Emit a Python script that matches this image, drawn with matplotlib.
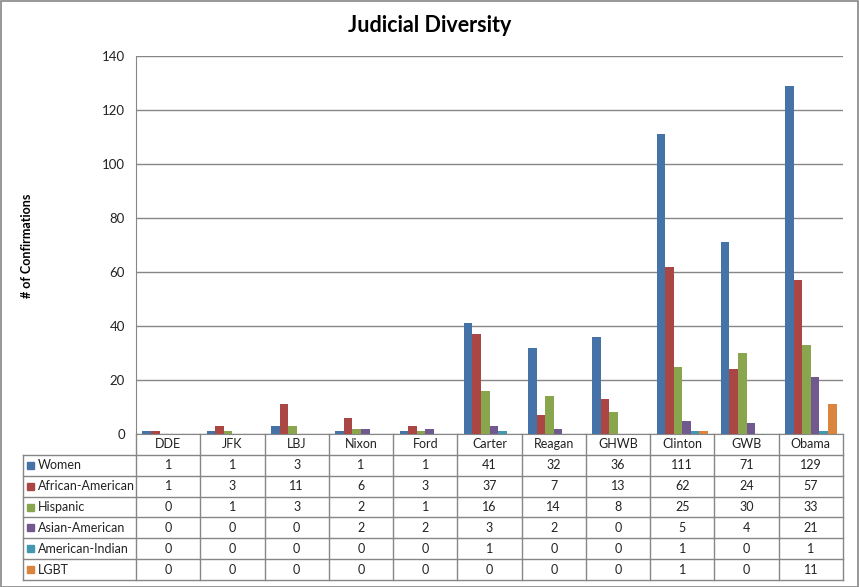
import matplotlib.pyplot as plt
import numpy as np
from matplotlib.patches import Rectangle

plt.rcParams['font.family'] = ['Lato', 'DejaVu Sans']

# Data
presidents = ['DDE', 'JFK', 'LBJ', 'Nixon', 'Ford', 'Carter', 'Reagan', 'GHWB', 'Clinton', 'GWB', 'Obama']
groups = ['Women', 'African-American', 'Hispanic', 'Asian-American', 'American-Indian', 'LGBT']
women = [1, 1, 3, 1, 1, 41, 32, 36, 111, 71, 129]
african_american = [1, 3, 11, 6, 3, 37, 7, 13, 62, 24, 57]
hispanic = [0, 1, 3, 2, 1, 16, 14, 8, 25, 30, 33]
asian_american = [0, 0, 0, 2, 2, 3, 2, 0, 5, 4, 21]
american_indian = [0, 0, 0, 0, 0, 1, 0, 0, 1, 0, 1]
lgbt = [0, 0, 0, 0, 0, 0, 0, 0, 1, 0, 11]
values = [women, african_american, hispanic, asian_american, american_indian, lgbt]
colors = ['#4572A7', '#AA4643', '#89A54E', '#71588F', '#4198AF', '#DB843D']

grey = '#868686'
txt = '#222222'
W, H = 859, 587
fig = plt.figure(figsize=(W / 100, H / 100), dpi=100)
ax = fig.add_axes([136 / W, 1 - 434 / H, 707 / W, 378 / H])

n = len(presidents)
x = np.arange(n)
width = 0.8 / len(groups)
for i, (name, vals) in enumerate(zip(groups, values)):
    ax.bar(x + (i - (len(groups) - 1) / 2) * width, vals, width, color=colors[i], label=name, zorder=3)

ax.set_xlim(-0.5, n - 0.5)
ax.set_ylim(0, 140)
ax.set_yticks(range(0, 141, 20))
ax.set_xticks([])
ax.yaxis.grid(True, color=grey, linewidth=1, zorder=0)
for s in ['top', 'right']:
    ax.spines[s].set_visible(False)
for s in ['left', 'bottom']:
    ax.spines[s].set_color(grey)
ax.tick_params(axis='y', length=0, labelsize=9.5, pad=8, colors=txt)

# Data table under the chart (axes coordinates)
lab_w = 113 / 707
tab_h = 146 / 378
n_rows = len(groups) + 1
rh = tab_h / n_rows
cw = 1 / n
line_kw = dict(color=grey, linewidth=1, transform=ax.transAxes, clip_on=False)

# horizontal lines
for k in range(1, n_rows + 1):
    ax.plot([-lab_w, 1], [-rh * k, -rh * k], **line_kw)
# vertical lines
for k in range(n + 1):
    ax.plot([k * cw, k * cw], [0, -tab_h], **line_kw)
ax.plot([-lab_w, -lab_w], [-rh, -tab_h], **line_kw)

# header row
for j, name in enumerate(presidents):
    ax.text((j + 0.5) * cw, -0.5 * rh, name, transform=ax.transAxes, ha='center', va='center',
            fontsize=9, color=txt)
# body rows
for i, (name, vals) in enumerate(zip(groups, values)):
    yc = -rh * (i + 1.5)
    ax.add_patch(Rectangle(((27 - 136) / 707, yc - 3.5 / 378), 7 / 707, 7 / 378,
                           transform=ax.transAxes, color=colors[i], clip_on=False, zorder=5))
    ax.text((38 - 136) / 707, yc, name, transform=ax.transAxes, ha='left', va='center',
            fontsize=9, color=txt)
    for j, v in enumerate(vals):
        ax.text((j + 0.5) * cw, yc, str(v), transform=ax.transAxes, ha='center', va='center',
                fontsize=9, color=txt)

fig.text(0.5, 1 - 25 / H, 'Judicial Diversity', ha='center', va='center',
         fontsize=15.5, fontweight='bold')
fig.text(27 / W, 1 - 246 / H, '# of Confirmations', rotation=90, ha='center', va='center',
         fontsize=9, fontweight='bold')

fig.patches.append(Rectangle((0.5 / W, 0.5 / H), 1 - 1.5 / W, 1 - 1.5 / H, transform=fig.transFigure,
                             fill=False, edgecolor=grey, linewidth=1.2))

fig.savefig('out.png', dpi=100)
